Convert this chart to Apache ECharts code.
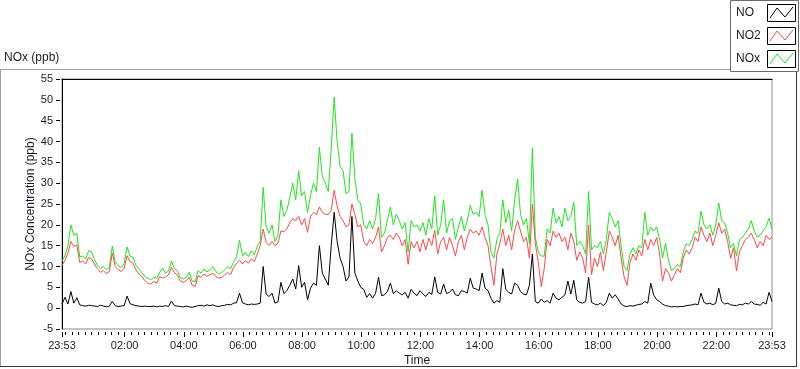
<!DOCTYPE html>
<html><head><meta charset="utf-8">
<script src="https://cdn.jsdelivr.net/npm/echarts@6/dist/echarts.min.js"></script>
<style>html,body{margin:0;padding:0;background:#fff}#c{width:800px;height:369px}</style>
</head><body><div id="c"></div>
<script>
const seriesNames = ['NO', 'NO2', 'NOx'];
const seriesColors = ['#000000', '#ff4848', '#1ee61e'];
const startClock = '23:53';
const stepMinutes = 6;
const tickLabels = ['23:53','02:00','04:00','06:00','08:00','10:00','12:00','14:00','16:00','18:00','20:00','22:00','23:53'];
const minorPerMajor = 9;

const no2 = [
10.2,11.5,13.2,16.0,14.8,15.2,11.0,11.3,10.6,12.2,
11.8,10.6,9.5,8.6,9.0,8.3,8.8,13.2,10.0,9.2,
8.8,9.6,12.6,11.2,10.8,9.2,8.2,7.6,6.6,6.0,
5.8,6.4,6.0,7.6,7.2,7.5,8.0,9.8,8.5,8.0,
6.5,6.2,6.6,7.4,5.5,5.2,7.8,7.4,8.2,7.6,
8.0,8.4,7.6,7.2,7.4,8.0,8.6,8.0,9.8,10.8,
11.5,10.6,11.4,10.8,11.8,11.2,13.0,15.0,19.0,15.8,
15.0,16.0,15.0,15.6,18.5,18.4,19.0,20.5,21.5,21.0,
22.0,20.0,21.5,18.2,22.0,23.0,22.5,24.3,23.0,22.5,
22.5,23.5,28.3,24.5,22.0,21.0,19.5,20.0,25.0,22.5,
19.5,20.0,16.0,15.0,16.5,15.5,17.0,19.5,13.5,15.0,
17.0,17.5,16.5,18.0,17.0,15.0,16.5,10.5,16.0,14.5,
16.0,13.5,16.5,14.0,16.8,15.0,18.7,13.0,16.0,17.0,
14.0,17.0,15.0,12.5,16.0,17.5,14.0,17.0,19.0,18.0,
18.5,17.5,19.5,17.0,15.0,10.0,5.5,13.0,15.5,19.0,
15.0,17.5,14.0,18.7,21.0,18.5,16.0,17.0,12.0,25.0,
15.5,11.0,5.2,9.5,16.5,15.0,18.5,17.0,18.0,16.0,
17.0,14.0,18.0,16.0,11.5,13.5,12.0,8.5,20.0,8.0,
12.0,10.0,13.5,9.0,13.5,18.5,17.0,15.0,17.5,12.0,
7.5,5.5,11.0,13.0,11.5,14.0,12.5,16.5,14.0,16.5,
15.0,17.0,13.0,6.5,9.5,8.5,6.5,8.0,9.5,8.5,
12.0,14.0,13.0,14.5,17.0,16.0,19.5,17.5,16.0,18.0,
15.0,17.5,20.5,18.0,19.0,16.0,12.0,14.5,9.0,13.5,
15.0,16.5,17.0,18.0,16.5,14.5,16.0,15.0,17.5,16.5,17.0
];
const nox = [
11.3,12.6,15.0,20.0,17.5,18.0,12.3,12.5,11.8,13.8,
13.5,11.6,10.3,9.6,10.0,9.2,9.8,14.9,11.0,10.2,
9.8,10.6,14.7,12.5,12.2,10.3,9.3,8.6,7.6,7.2,
6.8,7.4,7.2,8.6,9.6,8.4,8.9,11.3,9.5,8.9,
7.3,7.0,7.4,8.6,6.5,6.3,9.0,8.4,9.4,8.7,
9.2,10.0,8.8,8.2,8.6,9.2,10.0,9.4,11.2,12.3,
16.3,12.6,13.4,12.4,13.8,12.8,14.8,16.2,29.0,19.5,
18.0,20.0,16.0,17.5,26.0,22.0,23.5,26.5,30.0,26.0,
33.0,27.0,28.0,23.0,27.0,30.0,28.0,38.6,31.5,30.0,
28.0,38.0,50.6,40.0,34.0,33.0,27.5,28.0,42.0,31.0,
26.0,25.0,20.0,19.0,21.0,19.0,21.5,27.5,17.0,18.0,
21.0,24.3,20.0,22.5,21.0,19.0,20.5,13.5,21.0,19.5,
20.0,18.5,20.5,17.5,21.5,19.0,27.0,17.5,20.0,26.0,
18.0,21.0,21.5,16.5,19.5,22.0,18.5,21.0,24.7,22.5,
23.0,22.0,28.3,22.5,20.0,13.5,12.0,16.5,18.0,26.0,
20.5,23.5,18.5,26.0,31.0,22.5,20.0,21.5,15.5,38.5,
17.0,13.5,12.5,12.5,19.0,18.0,24.0,20.5,22.0,19.5,
24.0,21.0,22.0,25.4,15.0,16.0,15.0,13.0,28.0,14.0,
15.0,14.5,16.0,13.0,16.5,23.0,21.5,19.5,21.0,15.0,
10.0,9.0,13.0,14.5,13.0,15.0,14.5,23.0,17.5,19.5,
18.5,19.5,16.5,12.0,15.6,11.5,9.0,9.5,10.5,10.0,
13.5,15.5,15.0,16.5,18.5,18.0,23.3,20.0,19.0,20.0,
17.5,20.0,25.2,21.0,20.5,18.0,14.5,15.5,12.5,16.5,
17.0,18.0,19.0,21.0,18.5,17.0,17.5,18.5,19.5,21.6,19.0
];
const no = [
1.0,2.6,1.0,4.0,1.2,2.5,0.8,0.6,0.5,0.7,
0.6,0.5,0.4,0.7,0.5,0.3,0.5,1.6,0.6,0.4,
0.5,0.6,2.9,1.1,0.8,0.6,0.5,0.4,0.5,0.4,
0.4,0.5,0.3,0.5,0.4,0.6,0.4,1.7,0.6,0.5,
0.4,0.3,0.5,0.3,0.2,0.4,0.6,0.7,0.5,0.8,
0.6,0.8,0.5,0.4,0.6,0.7,0.9,0.8,1.2,1.3,
3.6,1.3,1.0,0.8,1.0,0.9,1.0,1.2,10.0,3.4,
2.8,3.6,1.2,1.5,6.2,3.5,4.2,5.5,7.0,4.6,
10.2,5.0,6.2,2.0,4.8,6.0,5.5,15.0,8.4,7.0,
5.5,15.0,23.0,16.0,12.0,10.0,6.5,7.5,22.0,8.4,
6.5,5.0,4.5,2.6,3.5,2.4,3.6,7.4,3.0,3.2,
4.0,6.0,3.5,4.2,3.6,3.2,3.8,2.4,4.5,3.6,
3.0,4.2,3.4,2.8,3.8,3.3,7.5,3.8,3.4,5.8,
3.5,3.8,4.6,3.2,3.0,4.2,4.0,3.6,7.2,4.8,
4.6,4.2,8.4,4.8,4.2,2.4,1.2,1.8,1.4,9.5,
4.5,3.8,3.4,6.0,5.5,4.0,3.4,3.2,5.5,13.0,
1.6,1.2,2.2,1.4,1.8,1.2,3.6,2.4,2.0,2.6,
3.2,6.5,3.4,6.7,2.0,1.4,1.2,1.6,7.4,1.4,
1.0,0.8,1.2,0.6,1.4,3.6,2.4,3.2,2.2,1.0,
0.5,0.4,0.6,0.5,0.7,0.9,1.0,1.6,1.2,6.0,
3.2,2.0,1.6,1.0,0.6,0.5,0.3,0.4,0.3,0.4,
0.4,0.6,0.7,0.8,1.0,0.8,3.6,1.4,1.0,1.2,
0.8,1.2,4.8,1.6,1.0,1.2,0.8,0.7,0.6,0.9,
0.8,1.2,1.0,1.6,1.0,0.9,0.7,1.4,1.0,3.8,1.6
];

const TXT = '#1a1a30';
const FONT = 'Liberation Sans, Arial, sans-serif';
function clockMin(s){ const p = s.split(':'); return (+p[0])*60 + (+p[1]); }
const totalMinutes = 1440;
const majorPos = tickLabels.map((s, i) => {
  let off = (clockMin(s) - clockMin(startClock) + 1440) % 1440;
  if (i === tickLabels.length - 1 && off === 0) off = totalMinutes;
  return off;
});
const labelMap = {};
majorPos.forEach((p, i) => { labelMap[p] = tickLabels[i]; });
const minorStep = 120 / minorPerMajor;
const minorPos = [];
for (let t = majorPos[1] % minorStep; t <= totalMinutes; t += minorStep) minorPos.push(+t.toFixed(3));

function pairs(arr){ return arr.map((v, i) => [i * stepMinutes, v]); }

const chart = echarts.init(document.getElementById('c'), null, {renderer: 'canvas'});
const legendX = 730, legendRowY = [13, 36, 59];
const graphics = [
  {type:'line', shape:{x1:0.5,y1:69.5,x2:730,y2:69.5}, style:{stroke:'#a0a0a0',lineWidth:1}, z:1},
  {type:'line', shape:{x1:0.5,y1:69.5,x2:0.5,y2:366.5}, style:{stroke:'#a0a0a0',lineWidth:1}, z:1},
  {type:'line', shape:{x1:0,y1:366.5,x2:797,y2:366.5}, style:{stroke:'#3a3a3a',lineWidth:1}, z:1},
  {type:'line', shape:{x1:796.5,y1:72,x2:796.5,y2:367}, style:{stroke:'#3a3a3a',lineWidth:1}, z:1},
  {type:'rect', shape:{x:legendX+0.5,y:0.5,width:68,height:71}, style:{fill:'#fff',stroke:'#6a6a6a',lineWidth:1}, z:2}
];
seriesNames.forEach((n, i) => {
  const cy = legendRowY[i];
  graphics.push({type:'text', x:legendX+6, y:cy, style:{text:n, fill:TXT, font:'12px '+FONT, verticalAlign:'middle', align:'left'}, z:3});
  const bx = 767, by = cy - 9;
  graphics.push({type:'rect', shape:{x:bx+0.5,y:by+0.5,width:28,height:17}, style:{fill:'#fff',stroke:'#000',lineWidth:1}, z:3});
  graphics.push({type:'polyline', shape:{points:[[bx+3,by+14],[bx+10,by+4],[bx+18,by+13],[bx+26,by+3]]}, style:{stroke:seriesColors[i],lineWidth:1,fill:null}, z:4});
});

const option = {
  animation: false,
  backgroundColor: '#fff',
  title: {text:'NOx (ppb)', left:4, top:52, padding:0, textStyle:{fontSize:12, fontWeight:'normal', color:TXT, fontFamily:FONT}},
  grid: {left:62, top:79, width:710, height:250, show:true, borderColor:'#8c8c8c', borderWidth:1, backgroundColor:'#fff',
         containLabel:false, outerBoundsMode:'none'},
  xAxis: [
    {type:'value', min:0, max:totalMinutes, position:'bottom', offset:3,
     axisLine:{show:false, onZero:false}, splitLine:{show:false},
     axisTick:{show:true, length:5, customValues:majorPos, lineStyle:{color:'#000'}},
     axisLabel:{show:true, customValues:majorPos, margin:8, color:TXT, fontSize:11, fontFamily:FONT,
       formatter: v => labelMap[v] !== undefined ? labelMap[v] : ''},
     name:'Time', nameLocation:'middle', nameGap:23, nameMoveOverlap:false,
     nameTextStyle:{fontSize:12, color:TXT, fontFamily:FONT}},
    {type:'value', min:0, max:totalMinutes, position:'bottom', offset:3,
     axisLine:{show:false, onZero:false}, splitLine:{show:false}, axisLabel:{show:false},
     axisTick:{show:true, length:3, customValues:minorPos, lineStyle:{color:'#000'}}},
    {type:'value', min:0, max:totalMinutes, position:'top', offset:0,
     axisLine:{show:true, onZero:false, lineStyle:{color:'#000', width:1}}, splitLine:{show:false}, axisLabel:{show:false}, axisTick:{show:false}}
  ],
  yAxis: [
    {type:'value', min:-5, max:55, interval:5, position:'left', offset:2,
     axisLine:{show:false, onZero:false}, splitLine:{show:false},
     axisTick:{show:true, length:4, lineStyle:{color:'#000'}},
     axisLabel:{margin:7, color:TXT, fontSize:11, fontFamily:FONT},
     name:'NOx Concentration (ppb)', nameLocation:'middle', nameGap:23, nameMoveOverlap:false,
     nameTextStyle:{fontSize:12, color:TXT, fontFamily:FONT}},
    {type:'value', min:-5, max:55, position:'left', offset:0,
     axisLine:{show:true, onZero:false, lineStyle:{color:'#000', width:1}}, splitLine:{show:false}, axisLabel:{show:false}, axisTick:{show:false}}
  ],
  series: [
    {name:seriesNames[2], type:'line', xAxisIndex:0, yAxisIndex:0, data:pairs(nox), showSymbol:false, symbol:'none',
     lineStyle:{color:seriesColors[2], width:1}, itemStyle:{color:seriesColors[2]}, z:2},
    {name:seriesNames[1], type:'line', xAxisIndex:0, yAxisIndex:0, data:pairs(no2), showSymbol:false, symbol:'none',
     lineStyle:{color:seriesColors[1], width:1}, itemStyle:{color:seriesColors[1]}, z:3},
    {name:seriesNames[0], type:'line', xAxisIndex:0, yAxisIndex:0, data:pairs(no), showSymbol:false, symbol:'none',
     lineStyle:{color:seriesColors[0], width:1}, itemStyle:{color:seriesColors[0]}, z:4}
  ],
  graphic: graphics
};
chart.setOption(option);
</script>
</body></html>
